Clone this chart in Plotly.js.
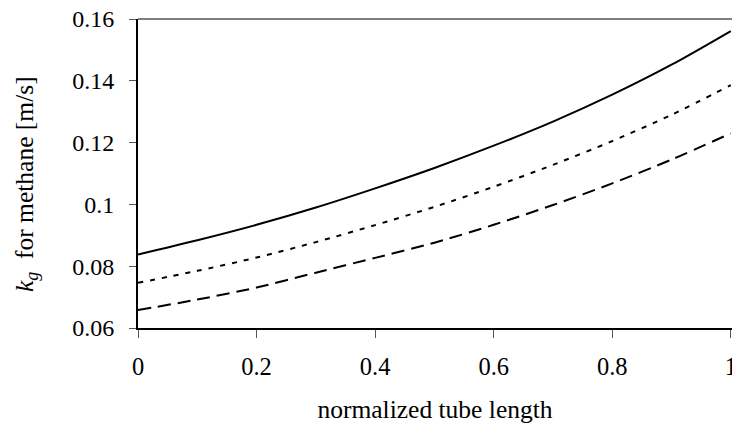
<!DOCTYPE html>
<html>
<head>
<meta charset="utf-8">
<script src="https://cdn.plot.ly/plotly-3.0.1.min.js"></script>
<style>html,body{margin:0;padding:0;background:#fff;}#chart{width:732px;height:426px;}</style>
</head>
<body>
<div id="chart"></div>
<script>
const xPos = [0, 0.1, 0.2, 0.3, 0.4, 0.5, 0.6, 0.7, 0.8, 0.9, 1.0];
const solidVals  = [0.0838, 0.0884, 0.0934, 0.0990, 0.1052, 0.1118, 0.1190, 0.1268, 0.1355, 0.1452, 0.1561];
const dottedVals = [0.0746, 0.0785, 0.0828, 0.0878, 0.0933, 0.0992, 0.1057, 0.1128, 0.1205, 0.1290, 0.1386];
const dashedVals = [0.0658, 0.0692, 0.0731, 0.0779, 0.0827, 0.0876, 0.0934, 0.0998, 0.1068, 0.1145, 0.1230];
const xTickVals = [0, 0.2, 0.4, 0.6, 0.8, 1];
const xTickText = ['0', '0.2', '0.4', '0.6', '0.8', '1'];
const yTickVals = [0.06, 0.08, 0.1, 0.12, 0.14, 0.16];
const yTickText = ['0.06', '0.08', '0.1', '0.12', '0.14', '0.16'];

const serif = 'Liberation Serif';

const traces = [
  {x: xPos, y: solidVals, mode: 'lines', line: {color: '#000', width: 2, shape: 'spline', smoothing: 0.8}},
  {x: xPos, y: dottedVals, mode: 'lines', line: {color: '#000', width: 2, dash: '5px,7px', shape: 'spline', smoothing: 0.8}},
  {x: xPos, y: dashedVals, mode: 'lines', line: {color: '#000', width: 2, dash: '13px,7px', shape: 'spline', smoothing: 0.8}}
];

const layout = {
  width: 732, height: 426,
  margin: {l: 138, r: 0, t: 19, b: 98, pad: 0},
  paper_bgcolor: '#fff', plot_bgcolor: '#fff',
  showlegend: false,
  font: {family: serif, color: '#000', size: 24},
  xaxis: {
    range: [0, 1.002], tickvals: xTickVals, ticktext: xTickText,
    showgrid: false, zeroline: false,
    showline: true, linecolor: '#000', linewidth: 2,
    ticks: 'outside', ticklen: 8, tickcolor: '#555', tickwidth: 1,
    ticklabelstandoff: 8, ticklabeloverflow: 'allow',
    tickfont: {family: serif, size: 24.5, color: '#000'},
    title: {text: 'normalized tube length', font: {family: serif, size: 25.5, color: '#000'}, standoff: 21}
  },
  yaxis: {
    range: [0.06, 0.16], tickvals: yTickVals, ticktext: yTickText,
    showgrid: false, zeroline: false,
    showline: true, linecolor: '#000', linewidth: 2,
    ticks: 'outside', ticklen: 7, tickcolor: '#555', tickwidth: 1,
    ticklabelstandoff: 10,
    tickfont: {family: serif, size: 24, color: '#000'}
  },
  shapes: [
    {type: 'line', xref: 'paper', yref: 'paper', x0: 0, x1: 1, y0: 1, y1: 1, line: {color: '#555', width: 1.5}}
  ],
  annotations: [
    {xref: 'paper', yref: 'paper', x: (26 - 138) / 594, y: (328 - 184) / 309,
     xanchor: 'center', yanchor: 'middle', textangle: -90, showarrow: false,
     text: '<i>k</i><sub><i>g</i></sub>  for methane [m/s]',
     font: {family: serif, size: 25.5, color: '#000'}}
  ]
};

Plotly.newPlot('chart', traces, layout, {displayModeBar: false, staticPlot: true});
</script>
</body>
</html>
